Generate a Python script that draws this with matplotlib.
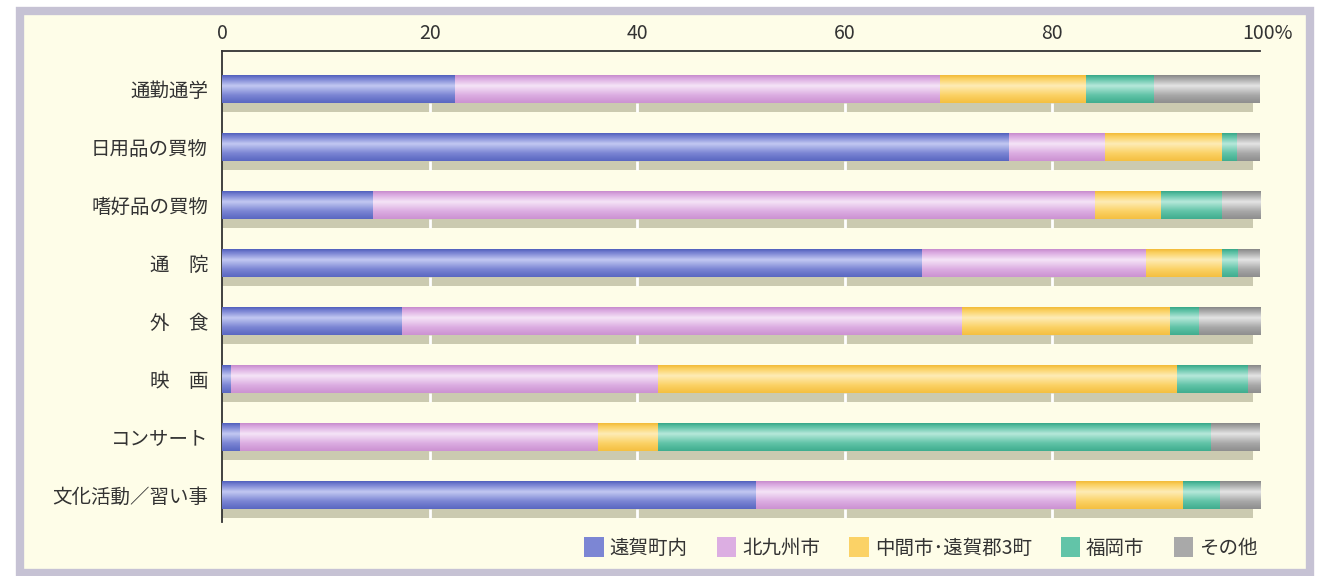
import numpy as np
import matplotlib
matplotlib.use("Agg")
import matplotlib.pyplot as plt
from matplotlib.colors import LinearSegmentedColormap
from matplotlib.patches import Rectangle
from matplotlib.transforms import ScaledTranslation

plt.rcParams['font.family'] = ['Noto Sans CJK JP', 'DejaVu Sans']

# 活動別の行き先構成比（%）
categories = ["通勤通学", "日用品の買物", "嗜好品の買物", "通　院", "外　食", "映　画", "コンサート", "文化活動／習い事"]
series_names = ["遠賀町内", "北九州市", "中間市･遠賀郡3町", "福岡市", "その他"]
enga_town = [22.4, 75.8, 14.5, 67.4, 17.3, 0.9, 1.7, 51.4]
kitakyushu = [46.8, 9.3, 69.6, 21.6, 54.0, 41.1, 34.5, 30.9]
nakama_3towns = [14.0, 11.2, 6.4, 7.3, 20.0, 50.0, 5.8, 10.3]
fukuoka = [6.6, 1.5, 5.8, 1.6, 2.8, 6.8, 53.3, 3.5]
others = [10.2, 2.2, 3.7, 2.1, 5.9, 1.2, 4.7, 3.9]
tick_values = [0, 20, 40, 60, 80, 100]
tick_labels = ["0", "20", "40", "60", "80", "100%"]

series = [enga_town, kitakyushu, nakama_3towns, fukuoka, others]
# (dark edge, base, highlight) for each series
palettes = [
    ("#5260bd", "#7c86d4", "#c2c8f2"),
    ("#c88bce", "#dcaee2", "#f5e4f7"),
    ("#f3bb38", "#fbd266", "#feecb6"),
    ("#38a889", "#62c4a8", "#b6e8da"),
    ("#888888", "#a9a9a9", "#e4e4e4"),
]

BAR_H = 0.48
SHADOW_H = 0.16
CREAM = "#fefde8"

fig = plt.figure(figsize=(13.32, 5.76), dpi=100, facecolor="white")

# Panel background with border (behind the axes)
fig.patches.append(Rectangle((20 / 1332, 3 / 576), 1290 / 1332, 1 - 14 / 576,
                             transform=fig.transFigure, facecolor=CREAM,
                             edgecolor="#c6c2d4", linewidth=6, zorder=-10))

ax = fig.add_axes([222 / 1332, 1 - 522 / 576, (1260 - 222) / 1332, (522 - 51) / 576])
ax.set_zorder(5)
ax.patch.set_alpha(0)

y = np.arange(len(categories))

# Shadow strips under bars
shadow_top = y + BAR_H / 2
shadow_bot = shadow_top + SHADOW_H
ax.barh(y + BAR_H / 2 + SHADOW_H / 2, [99.3] * len(categories), height=SHADOW_H,
        color="#cbcab0", zorder=1)
# Thin white breaks in the shadow strips at the grid positions
for v in tick_values[1:-1]:
    ax.vlines([v] * len(categories), shadow_top, shadow_bot, color="white",
              linewidth=2, zorder=2)

# Cylindrical shading profile across bar height (top -> bottom)
prof_t = np.array([0.0, 0.12, 0.38, 0.55, 0.85, 1.0])
prof_v = np.array([0.0, 0.45, 1.0, 0.75, 0.3, 0.1])
t = np.linspace(0, 1, 64)
shade = np.interp(t, prof_t, prof_v)

left = np.zeros(len(categories))
for vals, (dark, base, light) in zip(series, palettes):
    cmap = LinearSegmentedColormap.from_list("s", [dark, base, light])
    img = cmap(shade)[:, None, :]
    for i, w in enumerate(vals):
        ax.imshow(img, extent=[left[i], left[i] + w, y[i] + BAR_H / 2, y[i] - BAR_H / 2],
                  aspect="auto", interpolation="bilinear", zorder=3)
    left += np.array(vals)
ax.set_xlim(0, 100)
ax.set_ylim(7 + 27 / 58, -38 / 58)

# Axes styling
for s in ["right", "bottom"]:
    ax.spines[s].set_visible(False)
for s in ["top", "left"]:
    ax.spines[s].set_color("#333333")
    ax.spines[s].set_linewidth(1.3)
ax.xaxis.tick_top()
ax.set_xticks(tick_values)
ax.set_xticklabels(tick_labels, fontsize=14, color="#333333")
ax.set_yticks(y)
ax.set_yticklabels(categories, fontsize=14, color="#333333")
ax.tick_params(axis="x", length=0, pad=5)
ax.tick_params(axis="y", length=0, pad=10)
# Nudge the "100%" label so the number sits over the end of the axis
last = ax.get_xticklabels()[-1]
last.set_transform(last.get_transform() + ScaledTranslation(7 / 100, 0, fig.dpi_scale_trans))

# Legend
handles = [Rectangle((0, 0), 1, 1, facecolor=p[1], edgecolor="none") for p in palettes]
fig.legend(handles, series_names, loc="center", bbox_to_anchor=(921 / 1332, 1 - 548 / 576),
           ncol=5, frameon=False, fontsize=14, handlelength=1.0, handleheight=1.2,
           handletextpad=0.3, columnspacing=1.5, labelcolor="#333333")

fig.savefig("out.png", dpi=100, facecolor="white")
